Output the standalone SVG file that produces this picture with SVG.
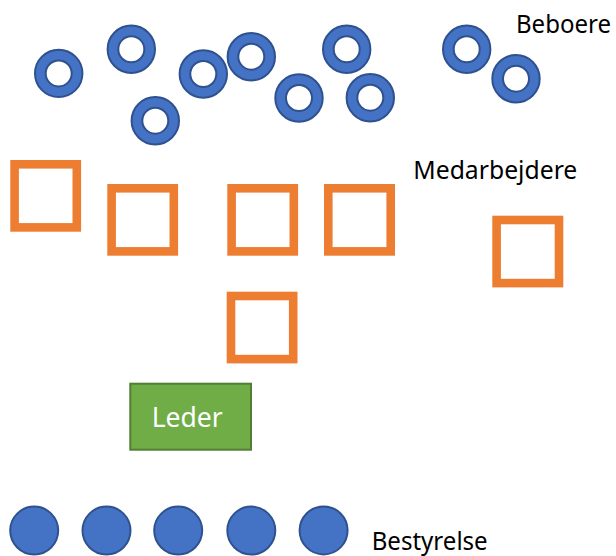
<svg xmlns="http://www.w3.org/2000/svg" width="616" height="556" viewBox="0 0 616 556">
<style>
.donut{fill:#4472C4;stroke:#2F528F;stroke-width:2;fill-rule:evenodd}
.sq{fill:none;stroke:#ED7D31;stroke-width:8.6}
.dot{fill:#4472C4;stroke:#2F528F;stroke-width:2}
.lbl{font-family:"Noto Sans","Open Sans","Liberation Sans",sans-serif;font-size:25px;fill:#000}
.leder{fill:#70AD47;stroke:#507E32;stroke-width:2}
.ledertxt{font-family:"Noto Sans","Open Sans","Liberation Sans",sans-serif;font-size:28px;fill:#fff}
</style>
<defs>
<path id="ring" d="M-23.7,0a23.7,23.7 0 1,0 47.4,0a23.7,23.7 0 1,0 -47.4,0ZM-13,0a13,13 0 1,0 26,0a13,13 0 1,0 -26,0Z"/>
</defs>
<rect width="616" height="556" fill="#fff"/>
<g id="beboere">
<g id="beboer-1"><use href="#ring" class="donut" x="58.7" y="73.4"/></g>
<g id="beboer-2"><use href="#ring" class="donut" x="131.3" y="49.3"/></g>
<g id="beboer-3"><use href="#ring" class="donut" x="155.3" y="120.7"/></g>
<g id="beboer-4"><use href="#ring" class="donut" x="203.3" y="74"/></g>
<g id="beboer-5"><use href="#ring" class="donut" x="251.3" y="56.7"/></g>
<g id="beboer-6"><use href="#ring" class="donut" x="299" y="98"/></g>
<g id="beboer-7"><use href="#ring" class="donut" x="346.7" y="49.3"/></g>
<g id="beboer-8"><use href="#ring" class="donut" x="370.3" y="97.7"/></g>
<g id="beboer-9"><use href="#ring" class="donut" x="466.7" y="49.3"/></g>
<g id="beboer-10"><use href="#ring" class="donut" x="516" y="78.7"/></g>
<text class="lbl" x="516" y="33.3" textLength="95" lengthAdjust="spacingAndGlyphs">Beboere</text>
</g>
<g id="medarbejdere">
<g id="medarbejder-1"><rect class="sq" x="14.6" y="164.3" width="62.2" height="63.1"/></g>
<g id="medarbejder-2"><rect class="sq" x="111.6" y="188.3" width="62.2" height="63.1"/></g>
<g id="medarbejder-3"><rect class="sq" x="231.6" y="188.3" width="62.2" height="63.1"/></g>
<g id="medarbejder-4"><rect class="sq" x="328.3" y="188.3" width="62.4" height="63.1"/></g>
<g id="medarbejder-5"><rect class="sq" x="496.6" y="220" width="62.4" height="63.1"/></g>
<g id="medarbejder-6"><rect class="sq" x="231" y="296" width="62.2" height="63.1"/></g>
<text class="lbl" x="413.3" y="179.3" textLength="164" lengthAdjust="spacingAndGlyphs">Medarbejdere</text>
</g>
<g id="leder">
<rect class="leder" x="130.3" y="383.7" width="120.7" height="66"/>
<text class="ledertxt" x="151.7" y="426.7" textLength="71" lengthAdjust="spacingAndGlyphs">Leder</text>
</g>
<g id="bestyrelse">
<g id="bestyrelse-1"><circle class="dot" cx="34.2" cy="530.6" r="24"/></g>
<g id="bestyrelse-2"><circle class="dot" cx="106.5" cy="530.6" r="24"/></g>
<g id="bestyrelse-3"><circle class="dot" cx="178.2" cy="530.6" r="24"/></g>
<g id="bestyrelse-4"><circle class="dot" cx="251.3" cy="530.6" r="24"/></g>
<g id="bestyrelse-5"><circle class="dot" cx="323.6" cy="530.4" r="24"/></g>
<text class="lbl" x="371.7" y="550" textLength="116" lengthAdjust="spacingAndGlyphs">Bestyrelse</text>
</g>
<g id="connectors"/>
</svg>
